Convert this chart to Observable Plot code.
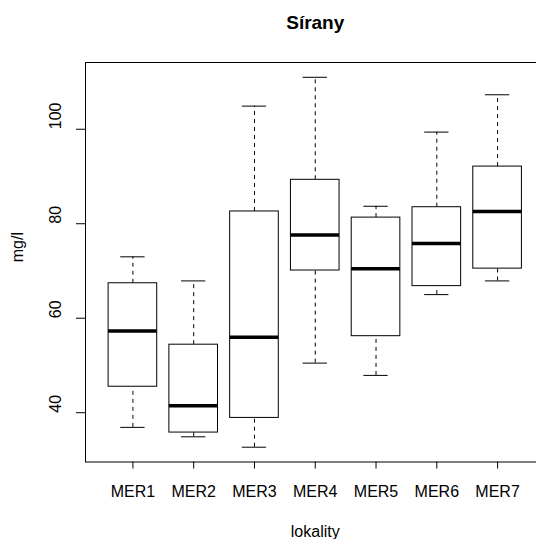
<!DOCTYPE html>
<html><head><meta charset="utf-8">
<script src="https://cdn.jsdelivr.net/npm/d3@7"></script>
<script src="https://cdn.jsdelivr.net/npm/@observablehq/plot@0.6"></script>
<style>body{margin:0;background:#fff} #chart svg{display:block}</style>
</head><body><div id="chart"></div>
<script>
const categories = ["MER1", "MER2", "MER3", "MER4", "MER5", "MER6", "MER7"];
const lowerWhisker = [36.9, 34.9, 32.7, 50.5, 47.9, 65.0, 67.9];
const q1 = [45.5, 35.8, 38.9, 70.1, 56.2, 66.8, 70.5];
const median = [57.3, 41.5, 56.0, 77.6, 70.5, 75.8, 82.6];
const q3 = [67.4, 54.4, 82.6, 89.3, 81.3, 83.5, 92.1];
const upperWhisker = [73.0, 67.9, 104.9, 111.0, 83.7, 99.4, 107.3];
const yTicks = [40, 60, 80, 100];
const title = "Sírany";
const xLabel = "lokality";
const yLabel = "mg/l";

const data = categories.map((name, i) => ({
  name, pos: i + 1,
  lower: lowerWhisker[i], q1: q1[i], median: median[i], q3: q3[i], upper: upperWhisker[i]
}));

// R-style 4% axis extension
const ymin = d3.min(lowerWhisker), ymax = d3.max(upperWhisker);
const ypad = (ymax - ymin) * 0.04;
const n = categories.length;
const xpad = n * 0.04;

const chart = Plot.plot({
  width: 536,
  height: 539,
  marginLeft: 85,
  marginRight: -8.5,
  marginTop: 62,
  marginBottom: 77.5,
  style: {fontFamily: "'Liberation Sans', Arial, sans-serif", fontSize: "16px", background: "white", color: "black", overflow: "hidden"},
  x: {type: "linear", domain: [0.5 - xpad, n + 0.5 + xpad], label: null},
  y: {domain: [ymin - ypad, ymax + ypad], label: null},
  marks: [
    Plot.frame({stroke: "black"}),
    Plot.axisX({ticks: data.map(d => d.pos), tickSize: 7, tickFormat: () => "", label: null}),
    Plot.axisY({ticks: yTicks, tickSize: 9, tickFormat: () => "", label: null}),
    Plot.ruleX(data, {x: "pos", y1: "q3", y2: "upper", stroke: "black", strokeDasharray: "4,4"}),
    Plot.ruleX(data, {x: "pos", y1: "lower", y2: "q1", stroke: "black", strokeDasharray: "4,4"}),
    Plot.ruleY(data, {y: "upper", x1: d => d.pos - 0.2, x2: d => d.pos + 0.2, stroke: "black"}),
    Plot.ruleY(data, {y: "lower", x1: d => d.pos - 0.2, x2: d => d.pos + 0.2, stroke: "black"}),
    Plot.rect(data, {x1: d => d.pos - 0.4, x2: d => d.pos + 0.4, y1: "q1", y2: "q3", fill: "white", stroke: "black"}),
    Plot.ruleY(data, {y: "median", x1: d => d.pos - 0.4, x2: d => d.pos + 0.4, stroke: "black", strokeWidth: 3.5}),
    Plot.text(yTicks, {y: d => d, text: d => String(d), frameAnchor: "left", lineAnchor: "middle", dx: -30, rotate: -90, fontSize: 16, fill: "black"}),
    Plot.text(data, {x: "pos", text: "name", frameAnchor: "bottom", lineAnchor: "middle", dy: 30, fontSize: 16, fill: "black"}),
    Plot.text([xLabel], {text: d => d, frameAnchor: "bottom", lineAnchor: "middle", dy: 70, fontSize: 16, fill: "black"}),
    Plot.text([yLabel], {text: d => d, frameAnchor: "left", lineAnchor: "middle", dx: -68, rotate: -90, fontSize: 16, fill: "black"}),
    Plot.text([title], {text: d => d, frameAnchor: "top", lineAnchor: "middle", dy: -40, fontSize: 19, fontWeight: "bold", fill: "black"})
  ]
});
document.getElementById("chart").appendChild(chart);
</script>
</body></html>
